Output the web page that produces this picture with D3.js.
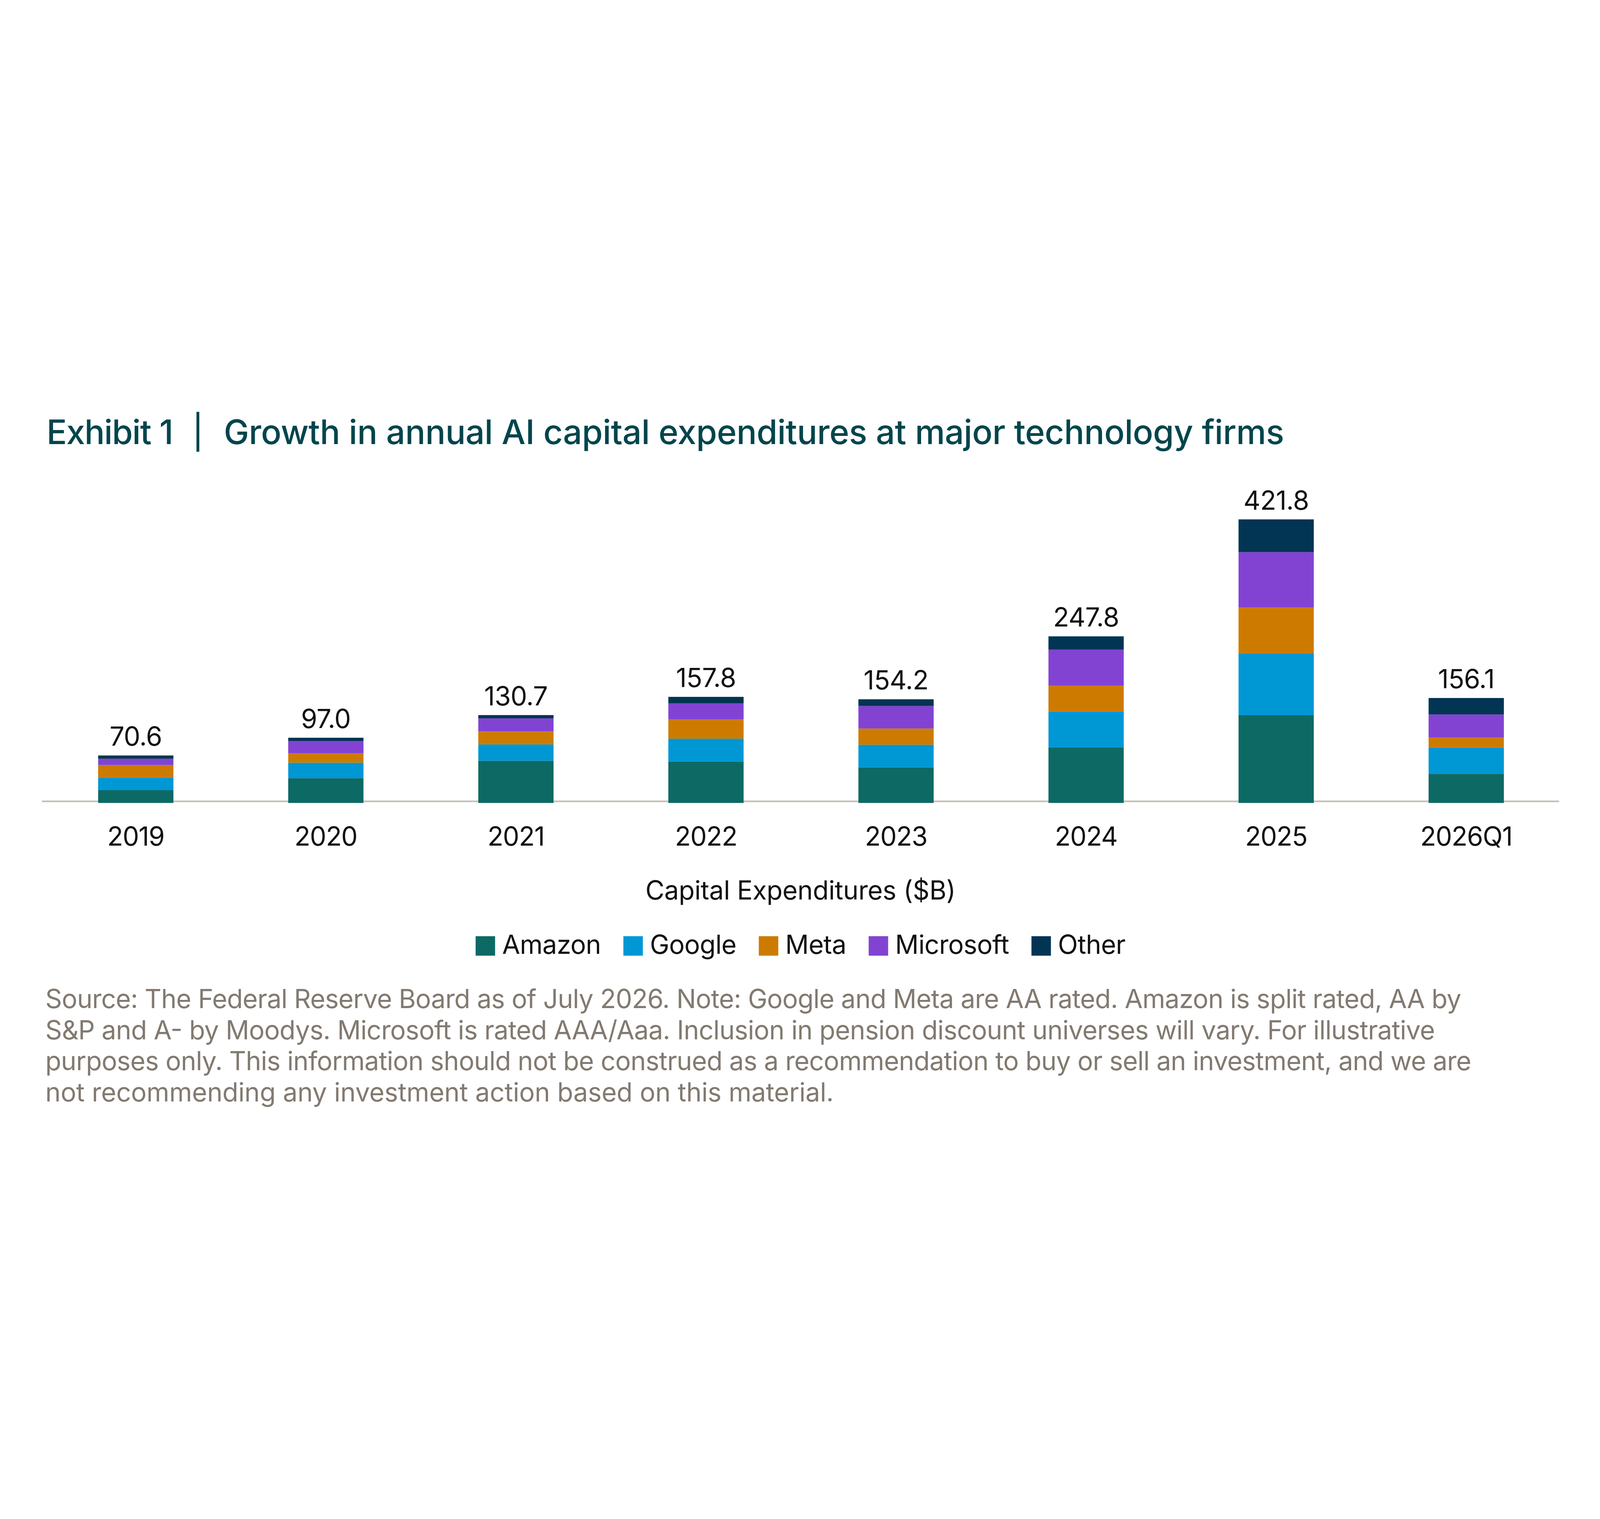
<!DOCTYPE html>
<html>
<head>
<meta charset="utf-8">
<script src="https://cdn.jsdelivr.net/npm/d3@7"></script>
<style>
  html, body { margin: 0; padding: 0; background: #ffffff; width: 100%; height: 100%; overflow: hidden; }
  svg { display: block; width: 100vw; height: 100vh; }
  text { font-family: Inter, "Noto Sans", "DejaVu Sans", sans-serif; }
</style>
</head>
<body>
<svg id="chart" viewBox="0 0 7972 3889" preserveAspectRatio="xMidYMid meet"></svg>
<script>
// ---------- DATA ----------
const categories = ["2019", "2020", "2021", "2022", "2023", "2024", "2025", "2026Q1"];
const seriesNames = ["Amazon", "Google", "Meta", "Microsoft", "Other"];
const amazon    = [19.0, 36.9, 62.8, 61.7, 52.9, 82.4, 130.6, 43.3];
const google    = [18.5, 23.0, 24.3, 33.9, 33.7, 53.5, 92.2, 39.3];
const meta      = [18.9, 13.9, 19.3, 28.7, 24.1, 38.8, 67.8, 14.7];
const microsoft = [9.3, 18.4, 19.4, 23.8, 33.5, 53.5, 82.5, 34.3];
const other     = [4.9, 4.8, 4.9, 9.7, 10.0, 19.6, 48.7, 24.5];
const seriesColors = ["#0D6964", "#0097D5", "#CC7B00", "#8243D2", "#013553"];

const titleLead = "Exhibit 1";
const titleText = "Growth in annual AI capital expenditures at major technology firms";
const axisTitle = "Capital Expenditures ($B)";
const footnoteLines = [
  "Source: The Federal Reserve Board as of July 2026. Note: Google and Meta are AA rated. Amazon is split rated, AA by",
  "S&P and A- by Moodys. Microsoft is rated AAA/Aaa. Inclusion in pension discount universes will vary. For illustrative",
  "purposes only. This information should not be construed as a recommendation to buy or sell an investment, and we are",
  "not recommending any investment action based on this material."
];

// ---------- BUILD TABLE ----------
const seriesValues = [amazon, google, meta, microsoft, other];
const table = categories.map((c, i) => {
  const row = { category: c };
  seriesNames.forEach((s, j) => { row[s] = seriesValues[j][i]; });
  return row;
});
const totals = table.map(r => d3.sum(seriesNames, s => r[s]));

// ---------- LAYOUT ----------
const svg = d3.select("#chart");
const baseY = 2161;
const axisLineY = 2153;
const pxPerUnit = 3.35;
// measured line extents of the footnote block (layout only)
const footnoteX = 226;
const footnoteLineWidths = [7055, 6924, 7105, 3928];

const x = d3.scaleBand()
  .domain(categories)
  .range([203, 7779])
  .paddingInner(0.604)
  .paddingOuter(0.302);

const yMax = 450;
const y = d3.scaleLinear()
  .domain([0, yMax])
  .range([baseY, baseY - yMax * pxPerUnit]);

const color = d3.scaleOrdinal().domain(seriesNames).range(seriesColors);

// ---------- TITLE ----------
const titleColor = "#02454D";
svg.append("text")
  .attr("x", 232).attr("y", 372)
  .attr("font-size", 168).attr("font-weight", 500)
  .attr("letter-spacing", -3)
  .attr("fill", titleColor)
  .text(titleLead);
svg.append("line")
  .attr("x1", 986).attr("x2", 986)
  .attr("y1", 212).attr("y2", 411)
  .attr("stroke", titleColor).attr("stroke-width", 14);
svg.append("text")
  .attr("x", 1115).attr("y", 372)
  .attr("font-size", 168).attr("font-weight", 500)
  .attr("letter-spacing", -0.75)
  .attr("fill", titleColor)
  .text(titleText);

// ---------- AXIS (baseline + category labels) ----------
const xAxis = d3.axisBottom(x).tickSize(0).tickPadding(0);
const axisG = svg.append("g")
  .attr("transform", `translate(0,${axisLineY})`)
  .call(xAxis);
axisG.select(".domain")
  .attr("stroke", "#C6BFB5")
  .attr("stroke-width", 8)
  .attr("d", `M209,0H7768`);
axisG.selectAll(".tick text")
  .attr("y", 2373 - axisLineY)
  .attr("dy", null)
  .attr("font-size", 130)
  .attr("letter-spacing", -2.5)
  .attr("font-family", "Inter, 'Noto Sans', sans-serif")
  .attr("fill", "#111111");

// ---------- STACKED BARS ----------
const stack = d3.stack().keys(seriesNames);
const stacked = stack(table);

svg.append("g")
  .selectAll("g")
  .data(stacked)
  .join("g")
  .attr("fill", d => color(d.key))
  .selectAll("rect")
  .data(d => d)
  .join("rect")
  .attr("x", d => x(d.data.category))
  .attr("width", x.bandwidth())
  .attr("y", d => y(d[1]))
  .attr("height", d => y(d[0]) - y(d[1]));

// ---------- TOTAL LABELS ----------
svg.append("g")
  .selectAll("text")
  .data(table)
  .join("text")
  .attr("x", d => x(d.category) + x.bandwidth() / 2)
  .attr("y", (d, i) => y(totals[i]) - 49)
  .attr("text-anchor", "middle")
  .attr("font-size", 131)
  .attr("letter-spacing", -1.5)
  .attr("fill", "#111111")
  .text((d, i) => d3.format(".1f")(totals[i]));

// ---------- AXIS TITLE ----------
const centerX = (209 + 7768) / 2;
svg.append("text")
  .attr("x", centerX).attr("y", 2643)
  .attr("text-anchor", "middle")
  .attr("font-size", 130)
  .attr("letter-spacing", -0.8)
  .attr("fill", "#111111")
  .text(axisTitle);

// ---------- LEGEND ----------
const swatch = 97, swatchGap = 35, itemGap = 112;
const legend = svg.append("g");
const items = legend.selectAll("g")
  .data(seriesNames)
  .join("g");
items.append("rect")
  .attr("width", swatch).attr("height", swatch)
  .attr("y", 2825)
  .attr("fill", d => color(d));
items.append("text")
  .attr("x", swatch + swatchGap)
  .attr("y", 2912)
  .attr("font-size", 130)
  .attr("letter-spacing", -1.5)
  .attr("fill", "#111111")
  .text(d => d);
let widths = [];
items.each(function() {
  widths.push(swatch + swatchGap + this.querySelector("text").getComputedTextLength());
});
const totalW = d3.sum(widths) + itemGap * (widths.length - 1);
let cx = centerX - totalW / 2;
items.attr("transform", (d, i) => {
  const t = `translate(${cx},0)`;
  cx += widths[i] + itemGap;
  return t;
});

// ---------- FOOTNOTE ----------
svg.append("g")
  .selectAll("text")
  .data(footnoteLines)
  .join("text")
  .attr("x", footnoteX)
  .attr("y", (d, i) => 3184 + i * 154.7)
  .attr("font-size", 130)
  .attr("textLength", (d, i) => footnoteLineWidths[i])
  .attr("lengthAdjust", "spacing")
  .attr("fill", "#827A70")
  .text(d => d);
</script>
</body>
</html>
